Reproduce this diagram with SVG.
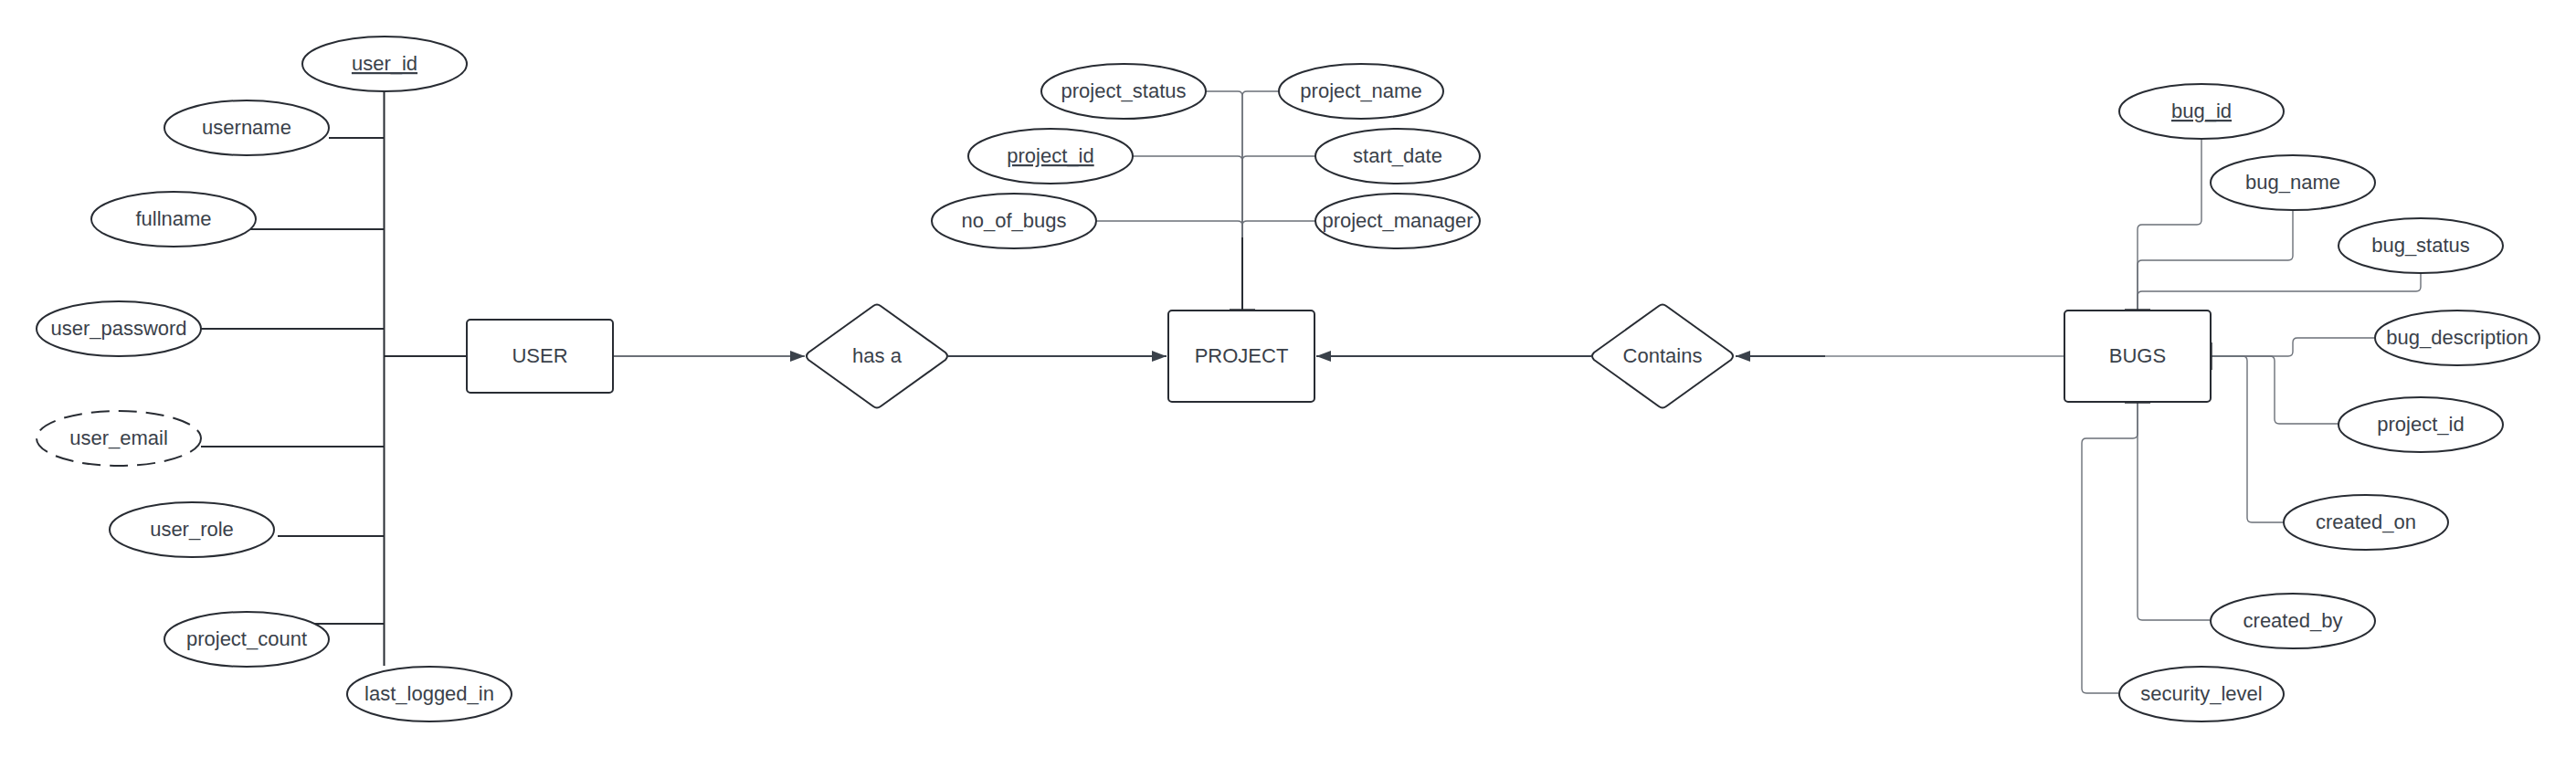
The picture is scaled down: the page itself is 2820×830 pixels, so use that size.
<svg xmlns="http://www.w3.org/2000/svg" width="2820" height="830" viewBox="0 0 2820 830">
<style>
.attr{fill:#fff;stroke:#282c33;stroke-width:2}
.dash{stroke-dasharray:20 10}
.ent{fill:#fff;stroke:#282c33;stroke-width:2}
.rel{fill:#fff;stroke:#282c33;stroke-width:2;stroke-linejoin:round}
text{font-family:"Liberation Sans",Arial,sans-serif;font-size:22px;fill:#3a414a;text-anchor:middle}
.u{text-decoration:underline}
.c1{fill:none;stroke:#282c33;stroke-width:2}
.c2{fill:none;stroke:#6b7078;stroke-width:1.4}
.c3{fill:none;stroke:#3a414a;stroke-width:2}
.stub{fill:none;stroke:#282c33;stroke-width:3.5}
</style>
<defs>
<marker id="ah" markerUnits="userSpaceOnUse" markerWidth="16" markerHeight="12" refX="16" refY="6" orient="auto">
<path d="M0,0 L16,6 L0,12 z" fill="#3a414a"/>
</marker>
</defs>
<rect width="2820" height="830" fill="#fff"/>
<g id="connectors">
<path class="c1" d="M420.5 99 V729"/>
<path class="c1" d="M360 151 H420.5"/>
<path class="c1" d="M272 251 H420.5"/>
<path class="c1" d="M220 360 H420.5"/>
<path class="c1" d="M420.5 390 H511"/>
<path class="c1" d="M220 489 H420.5"/>
<path class="c1" d="M304 587 H420.5"/>
<path class="c1" d="M344 683 H420.5"/>
<path class="c2" d="M671 390 H881" marker-end="url(#ah)" style="stroke:#3a414a;stroke-width:1.5"/>
<path class="c3" d="M1038 390 H1277" marker-end="url(#ah)"/>
<path class="c3" d="M1742 390 H1441" marker-end="url(#ah)"/>
<path class="c2" d="M2260 390 H1997" style="stroke:#7a7f87;stroke-width:1.5"/>
<path class="c3" d="M1998 390 H1900" marker-end="url(#ah)"/>
<path class="c2" d="M1320 100 H1355 Q1360 100 1360 105 V340"/>
<path class="c2" d="M1400 100 H1365 Q1360 100 1360 105 V340"/>
<path class="c2" d="M1240 171 H1355 Q1360 171 1360 176 V340"/>
<path class="c2" d="M1440 171 H1365 Q1360 171 1360 176 V340"/>
<path class="c2" d="M1200 242 H1355 Q1360 242 1360 247 V340"/>
<path class="c2" d="M1440 242 H1365 Q1360 242 1360 247 V340"/>
<path class="c1" d="M1360 260 V340"/>
<path class="stub" d="M1346 340 H1374"/>
<path class="c2" d="M2410 152 V241 Q2410 246 2405 246 H2345 Q2340 246 2340 251 V340"/>
<path class="c2" d="M2510 230 V280 Q2510 285 2505 285 H2345 Q2340 285 2340 290 V340"/>
<path class="c2" d="M2650 299 V314 Q2650 319 2645 319 H2345 Q2340 319 2340 324 V340"/>
<path class="c2" d="M2420 390 H2505 Q2510 390 2510 385 V375 Q2510 370 2515 370 H2599"/>
<path class="c2" d="M2420 390 H2485 Q2490 390 2490 395 V459 Q2490 464 2495 464 H2560"/>
<path class="c2" d="M2420 390 H2455 Q2460 390 2460 395 V567 Q2460 572 2465 572 H2500"/>
<path class="c2" d="M2340 440 V674 Q2340 679 2345 679 H2419"/>
<path class="c2" d="M2340 440 V475 Q2340 480 2335 480 H2284 Q2279 480 2279 485 V754 Q2279 759 2284 759 H2319"/>
<path class="stub" d="M2326 340 H2354"/>
<path class="stub" d="M2326 440 H2354"/>
<path class="stub" d="M2420 375 V405"/>
</g>
<g id="user_id"><ellipse class="attr" cx="421" cy="70" rx="90" ry="30"/><text class="u" x="421" y="77">user_id</text></g>
<g id="username"><ellipse class="attr" cx="270" cy="140" rx="90" ry="30"/><text x="270" y="147">username</text></g>
<g id="fullname"><ellipse class="attr" cx="190" cy="240" rx="90" ry="30"/><text x="190" y="247">fullname</text></g>
<g id="user_password"><ellipse class="attr" cx="130" cy="360" rx="90" ry="30"/><text x="130" y="367">user_password</text></g>
<g id="user_email"><ellipse class="attr dash" cx="130" cy="480" rx="90" ry="30"/><text x="130" y="487">user_email</text></g>
<g id="user_role"><ellipse class="attr" cx="210" cy="580" rx="90" ry="30"/><text x="210" y="587">user_role</text></g>
<g id="project_count"><ellipse class="attr" cx="270" cy="700" rx="90" ry="30"/><text x="270" y="707">project_count</text></g>
<g id="last_logged_in"><ellipse class="attr" cx="470" cy="760" rx="90" ry="30"/><text x="470" y="767">last_logged_in</text></g>
<g id="USER"><rect class="ent" x="511" y="350" width="160" height="80" rx="4"/><text x="591" y="397">USER</text></g>
<g id="has_a"><path class="rel" d="M956 335 Q960 332 964 335 L1035 386 Q1039 390 1035 394 L964 445 Q960 448 956 445 L885 394 Q881 390 885 386 Z"/><text x="960" y="397">has a</text></g>
<g id="PROJECT"><rect class="ent" x="1279" y="340" width="160" height="100" rx="4"/><text x="1359" y="397">PROJECT</text></g>
<g id="Contains"><path class="rel" d="M1816 335 Q1820 332 1824 335 L1895 386 Q1899 390 1895 394 L1824 445 Q1820 448 1816 445 L1745 394 Q1741 390 1745 386 Z"/><text x="1820" y="397">Contains</text></g>
<g id="BUGS"><rect class="ent" x="2260" y="340" width="160" height="100" rx="4"/><text x="2340" y="397">BUGS</text></g>
<g id="project_status"><ellipse class="attr" cx="1230" cy="100" rx="90" ry="30"/><text x="1230" y="107">project_status</text></g>
<g id="project_name"><ellipse class="attr" cx="1490" cy="100" rx="90" ry="30"/><text x="1490" y="107">project_name</text></g>
<g id="project_id"><ellipse class="attr" cx="1150" cy="171" rx="90" ry="30"/><text class="u" x="1150" y="178">project_id</text></g>
<g id="start_date"><ellipse class="attr" cx="1530" cy="171" rx="90" ry="30"/><text x="1530" y="178">start_date</text></g>
<g id="no_of_bugs"><ellipse class="attr" cx="1110" cy="242" rx="90" ry="30"/><text x="1110" y="249">no_of_bugs</text></g>
<g id="project_manager"><ellipse class="attr" cx="1530" cy="242" rx="90" ry="30"/><text x="1530" y="249">project_manager</text></g>
<g id="bug_id"><ellipse class="attr" cx="2410" cy="122" rx="90" ry="30"/><text class="u" x="2410" y="129">bug_id</text></g>
<g id="bug_name"><ellipse class="attr" cx="2510" cy="200" rx="90" ry="30"/><text x="2510" y="207">bug_name</text></g>
<g id="bug_status"><ellipse class="attr" cx="2650" cy="269" rx="90" ry="30"/><text x="2650" y="276">bug_status</text></g>
<g id="bug_description"><ellipse class="attr" cx="2690" cy="370" rx="90" ry="30"/><text x="2690" y="377">bug_description</text></g>
<g id="bug_project_id"><ellipse class="attr" cx="2650" cy="465" rx="90" ry="30"/><text x="2650" y="472">project_id</text></g>
<g id="created_on"><ellipse class="attr" cx="2590" cy="572" rx="90" ry="30"/><text x="2590" y="579">created_on</text></g>
<g id="created_by"><ellipse class="attr" cx="2510" cy="680" rx="90" ry="30"/><text x="2510" y="687">created_by</text></g>
<g id="security_level"><ellipse class="attr" cx="2410" cy="760" rx="90" ry="30"/><text x="2410" y="767">security_level</text></g>
</svg>
